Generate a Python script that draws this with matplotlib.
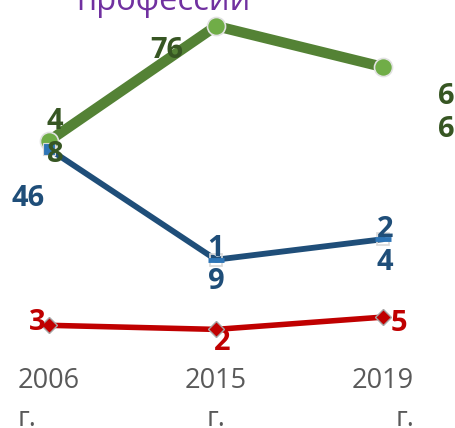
import matplotlib
matplotlib.use("Agg")
import matplotlib.pyplot as plt

plt.rcParams['font.family'] = ['Open Sans', 'DejaVu Sans']

years = ["2006\nг.", "2015\nг.", "2019\nг."]
green_vals = [48, 76, 66]
blue_vals = [46, 19, 24]
red_vals = [3, 2, 5]
green_labels = ["4\n8", "76", "6\n6"]
blue_labels = ["46", "1\n9", "2\n4"]
red_labels = ["3", "2", "5"]
title = "профессии"

W, H = 456, 428
fig = plt.figure(figsize=(W / 100, H / 100), dpi=100)
ax = fig.add_axes([0, (H - 360) / H, 1, 360 / H])

x = list(range(len(years)))
ppu = 167.0
ax.set_xlim(-49 / ppu, (W - 49) / ppu)
yppu = 4.1
ax.set_ylim(76 - (360 - 26) / yppu, 76 + 26 / yppu)

gcol, gmark, glab = '#548235', '#70ad47', '#375623'
bcol, blab = '#1f4e79', '#1f4e79'
rcol = '#c00000'

# red
ax.plot(x, red_vals, color=rcol, lw=4, zorder=3, solid_capstyle='round')
ax.plot(x, red_vals, ls='none', marker='D', ms=8, mfc=rcol, mec='#a6a6a6', mew=1, zorder=4)
# green
ax.plot(x, green_vals, color=gcol, lw=7.5, zorder=3, solid_capstyle='round')
ax.plot(x, green_vals, ls='none', marker='o', ms=13, mfc=gmark, mec='#e2e2e2', mew=1.2, zorder=4)
# blue
ax.plot(x, blue_vals, color=bcol, lw=4.2, zorder=5, solid_capstyle='round')
ax.plot(x[1:], blue_vals[1:], ls='none', marker='s', ms=9, mfc='none', mec='#d9d9d9', mew=1.2, zorder=6)
ax.plot(x[:1], blue_vals[:1], ls='none', marker='s', ms=8, mfc='#2e75b6', mec='#d9d9d9', mew=0.8, zorder=6)
ax.plot(x[1:], blue_vals[1:], ls='none', marker='_', ms=12, mec='#2e75b6', mew=3.5, zorder=6)

lab_kw = dict(textcoords='offset pixels', ha='center', va='center', fontsize=21,
              fontweight='bold', linespacing=1.2)

g_off = [(6, 3), (-49, -24), (63, -46)]
for xi, v, t, o in zip(x, green_vals, green_labels, g_off):
    ax.annotate(t, (xi, v), xytext=o, color=glab, zorder=7, **lab_kw)

b_off = [(-21, -49), (0, -5), (2, -7)]
for xi, v, t, o in zip(x, blue_vals, blue_labels, b_off):
    ax.annotate(t, (xi, v), xytext=o, color=blab, zorder=7, **lab_kw)

r_off = [(-12, 3), (6, -13), (16, -6)]
r_z = [7, 2, 7]
for xi, v, t, o, z in zip(x, red_vals, red_labels, r_off, r_z):
    ax.annotate(t, (xi, v), xytext=o, color=rcol, zorder=z, **lab_kw)

ax.set_xticks(x)
ax.set_xticklabels(years, fontsize=19.5, color='#595959', linespacing=1.5)
for lbl, al in zip(ax.get_xticklabels(), ['left', 'center', 'right']):
    lbl.set_multialignment(al)
ax.tick_params(axis='x', length=0, pad=5)
ax.set_yticks([])
for s in ax.spines.values():
    s.set_visible(False)
ax.patch.set_alpha(0)

fig.text(163 / W, 1 - 10 / H, title, ha='center', va='baseline', color='#7030a0', fontsize=23.5)

fig.savefig('out.png', dpi=100)
